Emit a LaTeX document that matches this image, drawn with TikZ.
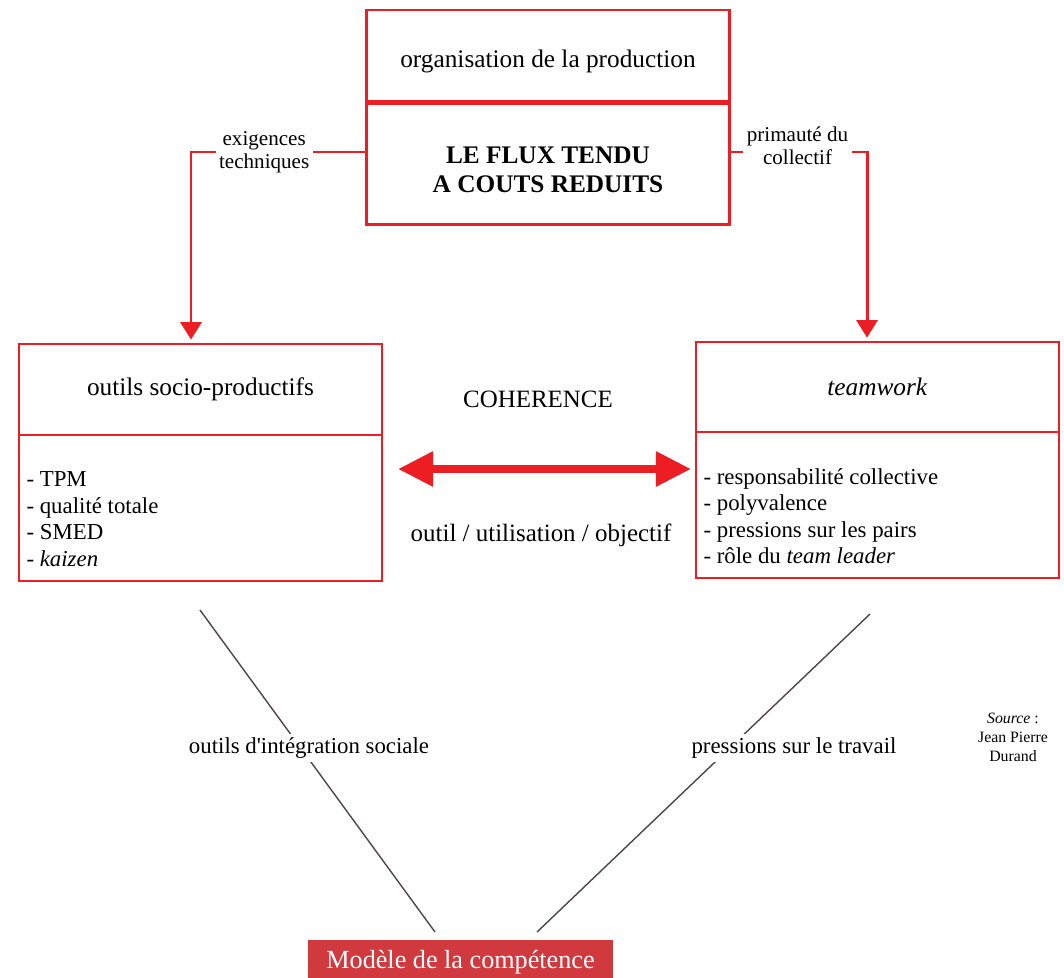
\documentclass[tikz,border=0pt]{standalone}
\usepackage{fontspec}
\setmainfont{Liberation Serif}
\usepackage{tikz}
\usetikzlibrary{arrows.meta}
\usetikzlibrary{positioning}
\definecolor{rouge}{RGB}{236,30,36}
\definecolor{gris}{RGB}{80,70,70}
\definecolor{brique}{RGB}{208,58,62}
\tikzset{cadre/.style = {draw = rouge, line width = 1pt, minimum width = 7.26cm, inner sep = 0,
    font = \fontsize{14.4}{17}\selectfont}}
\tikzset{liste/.style = {align = left, inner sep = 0, font = \fontsize{13}{15.1}\selectfont}}
\tikzset{fleche/.style = {draw = rouge, line width = 1.7pt, -{Triangle[length = 10pt, width = 12pt]}}}
\tikzset{etiq/.style = {fill = white, align = center, inner sep = 2pt, font = \fontsize{12}{13}\selectfont}}
\tikzset{trait/.style = {draw = gris, line width = 0.8pt}}

\begin{document}
\begin{tikzpicture}[x = 0.02cm, y = -0.02cm]
    \useasboundingbox (0, 0) rectangle (1064, 977);
    % bloc du haut
    \node [cadre, line width = 1.5pt, minimum height = 1.82cm] (org) at (548, 55.5) {};
    \node [cadre, line width = 1.5pt, minimum height = 2.42cm, below = 0pt of org] (flux) {};
    \node [font = \fontsize{14.4}{17}\selectfont] (orgT) at ([yshift = -0.12cm]org.center) {organisation de la production};
    \node [align = center, font = \fontsize{14.4}{16.4}\selectfont\bfseries] (fluxT) at ([yshift = -0.12cm]flux.center)
      {LE FLUX TENDU\\A COUTS REDUITS};
    % les deux colonnes
    \node [cadre, minimum height = 1.82cm] (socio) at (200.5, 389.5) {outils socio-productifs};
    \node [cadre, minimum height = 2.92cm, below = -1pt of socio] (socioL) {};
    \node [cadre, minimum height = 1.8cm] (team) at (877.5, 387) {\textit{teamwork}};
    \node [cadre, minimum height = 2.92cm, below = -1pt of team] (teamL) {};
    \node [liste, anchor = west] (socioT) at ([xshift = 0.16cm, yshift = -0.22cm]socioL.west)
      {- TPM\\- qualité totale\\- SMED\\- \textit{kaizen}};
    \node [liste, anchor = west] (teamT) at ([xshift = 0.16cm, yshift = -0.22cm]teamL.west)
      {- responsabilité collective\\- polyvalence\\- pressions sur les pairs\\- rôle du \textit{team leader}};
    % fleches rouges
    \coordinate (exL) at (191, 152);
    \coordinate (prR) at (867, 152);
    \draw [fleche] (flux.west |- exL) -- node [etiq, pos = 0.58] {exigences\\techniques} (exL) -- ([yshift = 2pt]exL |- socio.north);
    \draw [fleche] (flux.east |- prR) -- node [etiq, pos = 0.49, yshift = 0.12cm] {primauté du\\collectif} (prR) -- ([yshift = 2pt]prR |- team.north);
    % coherence
    \node [font = \fontsize{14.2}{17}\selectfont] (coh) at (538, 399) {COHERENCE};
    \node [font = \fontsize{14.2}{17}\selectfont] (outil) at (541, 535) {outil / utilisation / objectif};
    \coordinate (ca) at (398, 469);
    \coordinate (cb) at (691, 469);
    \draw [draw = rouge, line width = 4.5pt, {Triangle[length = 20pt, width = 19pt]}-{Triangle[length = 20pt, width = 19pt]}] (ca) -- (cb);
    % vers le modele
    \node [fill = brique, text = white, minimum width = 6.1cm, minimum height = 0.88cm,
      font = \fontsize{14.9}{17}\selectfont] (model) at (460.5, 962) {Modèle de la compétence};
    \coordinate (hL) at (200, 610);
    \coordinate (bL) at (435, 932);
    \coordinate (hR) at (870, 614);
    \coordinate (bR) at (537, 932);
    \draw [trait] (hL) -- (bL);
    \draw [trait] (hR) -- (bR);
    \node [etiq, font = \fontsize{13}{15}\selectfont] (integ) at (309, 748) {outils d\textquotesingle intégration sociale};
    \node [etiq, font = \fontsize{13}{15}\selectfont] (press) at (794, 748) {pressions sur le travail};
    % source
    \node [align = center, font = \fontsize{9}{10.8}\selectfont] (src) at (1013, 737) {\textit{Source} :\\Jean Pierre\\Durand};
  \end{tikzpicture}
\end{document}
